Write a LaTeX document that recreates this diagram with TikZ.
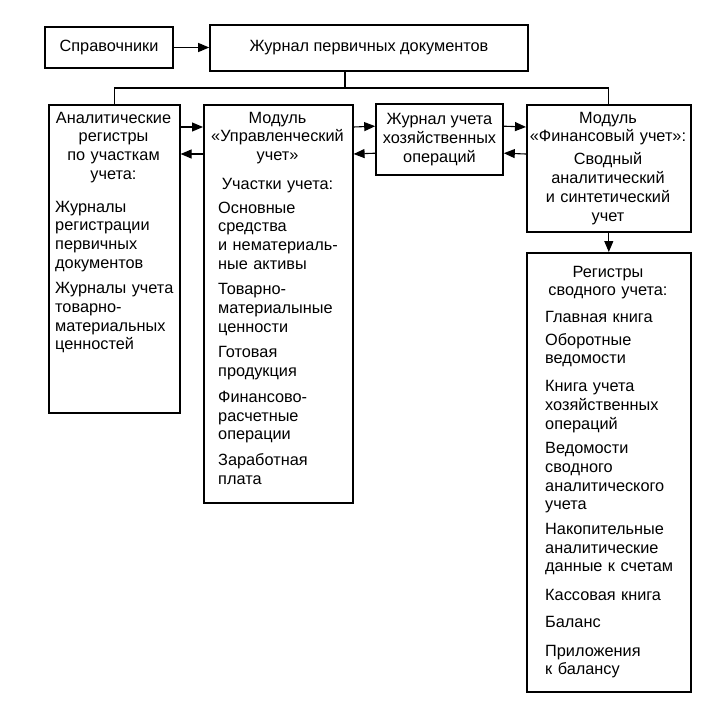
\documentclass[tikz,border=0pt]{standalone}
\usepackage{fontspec}
\setmainfont{Liberation Sans}
\usetikzlibrary{arrows.meta,positioning,calc}
\tikzset{
  blok/.style={draw, line width=1.6pt, inner sep=0pt},
  zagolovok/.style={inner sep=0pt, text width=170pt, align=center, anchor=base},
  punkty/.style={inner sep=0pt, text width=170pt, align=left, anchor=base west},
  strelka/.style={line width=1.1pt, -{Triangle[length=11pt,width=9pt]}},
  liniya/.style={line width=1.1pt}
}

\begin{document}
\begin{tikzpicture}[x=1pt,y=-1pt,font=\fontsize{16.3}{18.7}\selectfont]
  \useasboundingbox (0,0) rectangle (728,709);
  % top row
  \node[blok, minimum width=128pt, minimum height=41pt] (sprav) at (109,47.5) {Справочники};
  \node[blok, minimum width=318pt, minimum height=46pt] (zhurnal) at (369,48) {Журнал первичных документов};
  % boxes of the second row
  \node[blok, anchor=north west, minimum width=131pt, minimum height=308pt] (analit) at (48,104) {};
  \node[blok, anchor=north west, minimum width=149pt, minimum height=398pt] (upr) at (203,104) {};
  \node[blok, align=center, minimum width=127pt, minimum height=71pt] (hoz) at (439.5,139.5)
       {Журнал учета\\хозяйственных\\операций};
  \node[blok, anchor=north west, minimum width=164pt, minimum height=127pt] (fin) at (526,104) {};
  \node[blok, anchor=north west, minimum width=164pt, minimum height=439pt] (regs) at (526,252) {};
  % texts in the boxes
  \node[zagolovok] (analit-z) at (113.5,123) {Аналитические\\регистры\\по участкам\\учета:};
  \node[punkty] (analit-p) at (55,212) {Журналы\\регистрации\\первичных\\документов\\[7pt]%
       Журналы учета\\товарно-\\материальных\\ценностей};
  \node[zagolovok] (upr-z) at (277.5,123) {Модуль\\«Управленческий\\учет»\\[10pt]Участки учета:};
  \node[punkty] (upr-p) at (218,213) {Основные\\средства\\и нематериаль-\\ные активы\\[7pt]%
       Товарно-\\материалыные\\ценности\\[7pt]Готовая\\продукция\\[7pt]%
       Финансово-\\расчетные\\операции\\[7pt]Заработная\\плата};
  \node[zagolovok] (fin-z) at (608,123) {Модуль\\«Финансовый учет»:\\[4.5pt]Сводный\\аналитический\\и синтетический\\учет};
  \node[zagolovok] (regs-z) at (608,277) {Регистры\\сводного учета:};
  \node[punkty] (regs-p) at (545,322) {Главная книга\\[4.5pt]Оборотные\\ведомости\\[9pt]%
       Книга учета\\хозяйственных\\операций\\[6pt]Ведомости\\сводного\\аналитического\\учета\\[6pt]%
       Накопительные\\аналитические\\данные к счетам\\[10pt]Кассовая книга\\[8pt]Баланс\\[10pt]%
       Приложения\\к балансу};
  % connectors
  \draw[strelka] (sprav.east) -- (sprav.east -| zhurnal.west);
  \coordinate (razv) at (345,88);
  \draw[liniya] (zhurnal.south -| razv) -- (razv);
  \draw[liniya] (analit.north) |- (razv) -| (fin.north);
  \foreach \a/\b in {analit/upr, upr/hoz, hoz/fin} {
    \draw[strelka] ([yshift=-23pt]\a.north east) -- ([yshift=-23pt]\b.north west);
    \draw[strelka] ([yshift=-50pt]\b.north west) -- ([yshift=-50pt]\a.north east);
  }
  \draw[strelka] (fin.south) -- (regs.north);
\end{tikzpicture}
\end{document}
